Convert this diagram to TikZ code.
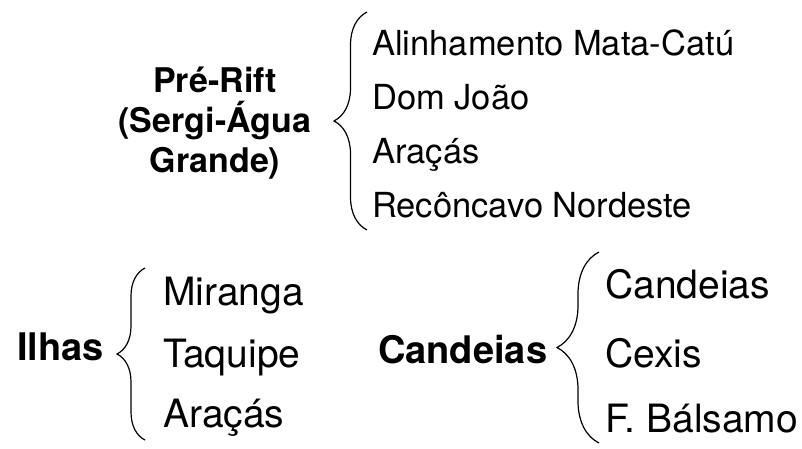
\documentclass[tikz,border=0pt]{standalone}
\usepackage{fontspec}
\setmainfont{TeX Gyre Heros}
\usetikzlibrary{positioning}
\usetikzlibrary{decorations.pathreplacing}

\begin{document}
\begin{tikzpicture}[x=1pt,y=-1pt,
itemnode/.style={anchor=base west, inner sep=0pt, font=\fontsize{34.5}{40}\selectfont},
bigitem/.style={anchor=base west, inner sep=0pt, font=\fontsize{39}{46}\selectfont},
groupnode/.style={anchor=base, inner sep=0pt, align=center, font=\bfseries\fontsize{34}{40}\selectfont},
biggroup/.style={anchor=base west, inner sep=0pt, font=\bfseries\fontsize{38}{46}\selectfont},
curly/.style={decorate, decoration={brace, amplitude=#1}, line width=1.2pt},
curly/.default=30pt
]
\useasboundingbox (0,0) rectangle (802,448);

%Top group
\node[groupnode]        (prerift)   at (215,172)      {Pré-Rift\\(Sergi-Água\\Grande)};
\node[itemnode]         (alin)      at (372,55)       {Alinhamento Mata-Catú};
\node[itemnode, below=54pt of alin.base west, anchor=base west]  (dom)  {Dom João};
\node[itemnode, below=54pt of dom.base west, anchor=base west]   (ara1) {Araçás};
\node[itemnode, below=54pt of ara1.base west, anchor=base west]  (rec)  {Recôncavo Nordeste};
\coordinate (pretop) at (367,12);
\coordinate (prebot) at (367,230);

%Ilhas
\node[biggroup]         (ilhas)     at (17,360)       {Ilhas};
\node[bigitem]          (mir)       at (163,305)      {Miranga};
\node[bigitem, below=62pt of mir.base west, anchor=base west]    (taq)  {Taquipe};
\node[bigitem, below=60pt of taq.base west, anchor=base west]    (ara2) {Araçás};
\coordinate (iltop) at (145,268);
\coordinate (ilbot) at (145,440);

%Candeias
\node[biggroup]         (cand)      at (378,363)      {Candeias};
\node[bigitem]          (cand1)     at (605,298)      {Candeias};
\node[bigitem, below=69pt of cand1.base west, anchor=base west]  (cex)  {Cexis};
\node[bigitem, below=65pt of cex.base west, anchor=base west]    (bal)  {F. Bálsamo};
\coordinate (catop) at (599,252);
\coordinate (cabot) at (599,443);

%Braces
\draw[curly=33pt] (prebot) -- (pretop);
\draw[curly=28pt] (ilbot) -- (iltop);
\draw[curly=42pt] (cabot) -- (catop);

\end{tikzpicture}
\end{document}
